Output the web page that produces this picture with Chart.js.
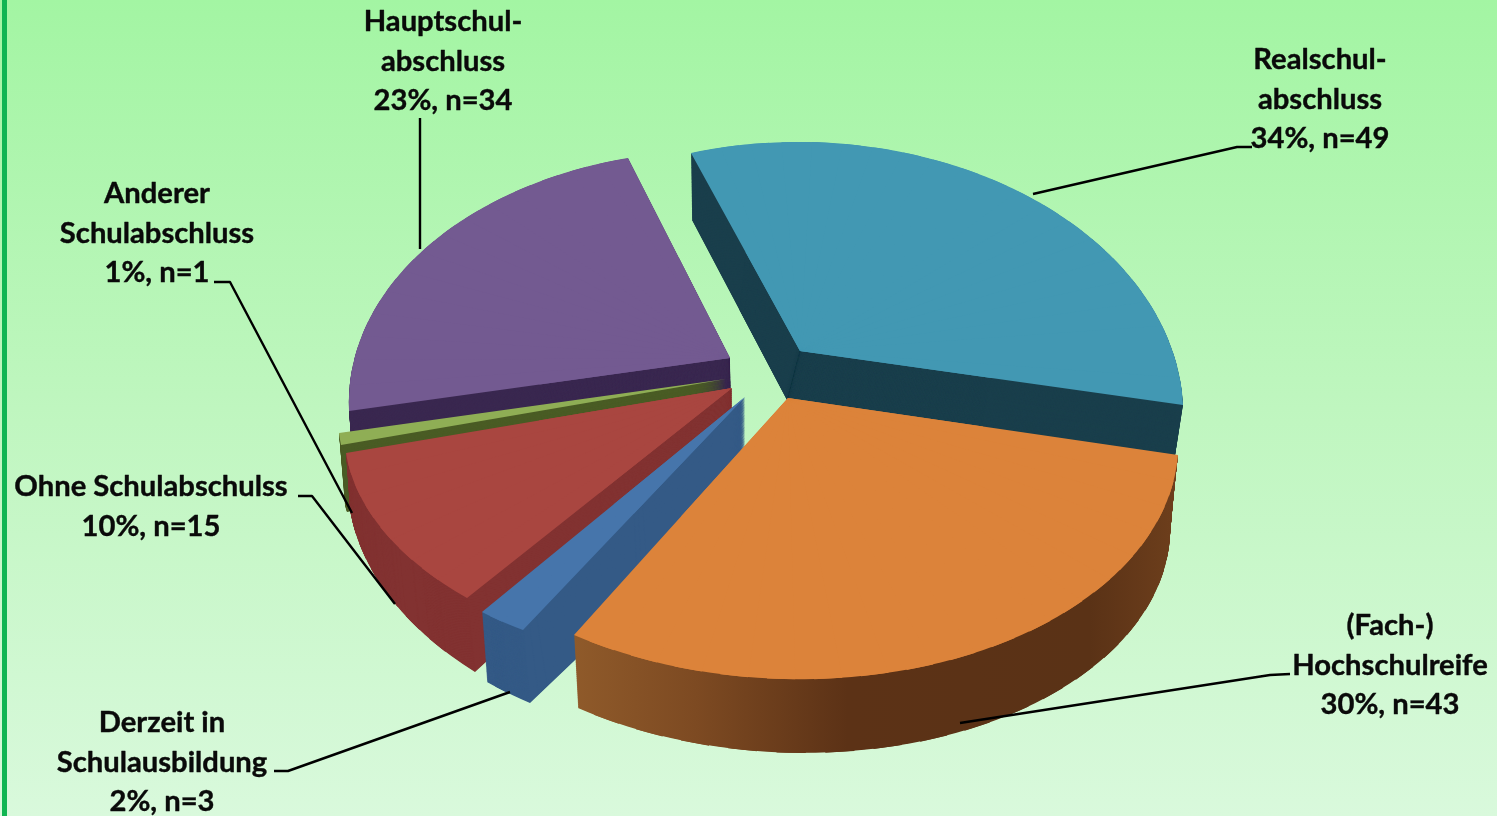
<!DOCTYPE html>
<html lang="de">
<head>
<meta charset="utf-8">
<title>Schulabschluss</title>
<style>html,body{margin:0;padding:0;background:#c8f6c8;overflow:hidden}canvas{display:block}</style>
<script src="https://cdn.jsdelivr.net/npm/chart.js@4"></script>
</head>
<body>
<canvas id="c" width="1497" height="816"></canvas>
<script>
// ---- data ----
const categories = ['Realschulabschluss', '(Fach-)Hochschulreife', 'Derzeit in Schulausbildung', 'Ohne Schulabschulss', 'Anderer Schulabschluss', 'Hauptschulabschluss'];
const counts = [49, 43, 3, 15, 1, 34];
const percents = [34, 30, 2, 10, 1, 23];
const labelHeads = [['Realschul-', 'abschluss'], ['(Fach-)', 'Hochschulreife'], ['Derzeit in', 'Schulausbildung'], ['Ohne Schulabschulss'], ['Anderer', 'Schulabschluss'], ['Hauptschul-', 'abschluss']];

// ---- style ----
const topColors = ['#4298b3', '#dc833a', '#4675ab', '#a94640', '#8fae55', '#735a91'];
const wallColors = ['#1a3f4c', null, '#345a86', '#823231', '#4a5c25', '#3a2850'];
const orangeWallStops = [[0, '#8f5a2a'], [0.2, '#7d4a22'], [0.45, '#5c3216'], [0.85, '#5a3216'], [1, '#6e3f1c']];
const drawOrder = [0, 5, 4, 3, 2, 1];

// ---- 3D view: how each wedge's rim maps on the page [apex, first rim end, last rim end] ----
const perspectiveTop = [0.22, 0.16, 0.22, 0.22, 0.22, 0.2];
const perspectiveBottom = [0.22, 0.22, 0.22, 0.22, 0.22, 0.2];
const viewTop = [
  [[800, 351], [691, 153], [1183, 405]],
  [[788, 398], [1178, 455], [574, 635]],
  [[745, 397], [523, 630], [482, 612]],
  [[732, 388], [467, 598], [346, 453]],
  [[726, 379], [341, 445], [339, 433]],
  [[730, 358], [349, 411], [628, 158]]
];
const viewBottom = [
  [[787, 400], [692, 220], [1175, 456]],
  [[788, 470], [1170, 520], [578, 708]],
  [[745, 498], [530, 703], [487, 682]],
  [[732, 437], [475, 672], [350, 510]],
  [[727, 430], [347, 512], [345, 505]],
  [[731, 410], [354, 475], [628, 210]]
];
const labelLayout = [
  {x: 1320, y: 60}, {x: 1390, y: 626}, {x: 162, y: 723}, {x: 151, y: 487}, {x: 157, y: 194}, {x: 443, y: 22}
];
const leaders = [
  [[1252, 147], [1237, 147], [1033, 194]],
  [[1290, 674], [1270, 675], [960, 723]],
  [[274, 771], [288, 771], [510, 692]],
  [[298, 496], [312, 496], [395, 604]],
  [[214, 282], [230, 282], [352, 513]],
  [[420, 118], [420, 249]]
];
const lineStep = 39.4;
const maxSubAngle = 6 * Math.PI / 180;

function frameMatrix(ap, p1, p2, a1, a2) {
  const c1 = Math.cos(a1), s1 = Math.sin(a1), c2 = Math.cos(a2), s2 = Math.sin(a2);
  const det = c1 * s2 - s1 * c2;
  const d1x = p1[0] - ap[0], d1y = p1[1] - ap[1], d2x = p2[0] - ap[0], d2y = p2[1] - ap[1];
  return {
    a: (d1x * s2 - d2x * s1) / det, b: (d2x * c1 - d1x * c2) / det,
    c: (d1y * s2 - d2y * s1) / det, d: (d2y * c1 - d1y * c2) / det,
    e: ap[0], f: ap[1]
  };
}
function mixFrame(A, B, t) {
  return A.map((p, i) => [p[0] + (B[i][0] - p[0]) * t, p[1] + (B[i][1] - p[1]) * t]);
}
// perspective rim: X(a) = (M u(a) + apex) / (1 - p sin a)
function rimFunction(pts, a1, a2, persp) {
  const w = a => 1 - persp * Math.sin(a);
  const ap = pts[0];
  const q1 = [pts[1][0] * w(a1), pts[1][1] * w(a1)];
  const q2 = [pts[2][0] * w(a2), pts[2][1] * w(a2)];
  const m = frameMatrix(ap, q1, q2, a1, a2);
  return a => {
    const c = Math.cos(a), s = Math.sin(a), k = w(a);
    return [(m.a * c + m.b * s + ap[0]) / k, (m.c * c + m.d * s + ap[1]) / k];
  };
}
function paintSpan(ctx, el, m, b0, b2, wallGradient) {
  const R = el.outerRadius;
  el.startAngle = b0;
  el.endAngle = b2;
  el.circumference = b2 - b0;
  ctx.save();
  ctx.transform(m.a / R, m.c / R, m.b / R, m.d / R, m.e, m.f);
  if (wallGradient) {
    const gx = m.a / R, gy = m.b / R, nn = gx * gx + gy * gy;
    const g = ctx.createLinearGradient(
      el.x + gx * (575 - m.e) / nn, el.y + gy * (575 - m.e) / nn,
      el.x + gx * (1180 - m.e) / nn, el.y + gy * (1180 - m.e) / nn);
    wallGradient.forEach(st => g.addColorStop(st[0], st[1]));
    el.options.backgroundColor = g;
  }
  ctx.translate(-el.x, -el.y);
  el.draw(ctx);
  ctx.restore();
}
function drawWedge(ctx, el, pts, persp, wallGradient) {
  const start = el._a0, end = el._a1;
  const rim = rimFunction(pts, start, end, persp);
  const ap = pts[0];
  const n = Math.max(1, Math.ceil((end - start) / maxSubAngle));
  const lap = n > 1 ? (end - start) / n * 0.6 : 0;
  // whole wedge at half size first: gives a clean corner at the apex
  if (n > 1) {
    const r0 = rim(start), r1 = rim(end);
    const half = p => [(ap[0] + p[0]) / 2, (ap[1] + p[1]) / 2];
    paintSpan(ctx, el, frameMatrix(ap, half(r0), half(r1), start, end), start, end, wallGradient);
  }
  for (let k = 0; k < n; k++) {
    const b0 = start + (end - start) * k / n;
    const b1 = start + (end - start) * (k + 1) / n;
    const b2 = k < n - 1 ? b1 + lap : b1;
    paintSpan(ctx, el, frameMatrix(ap, rim(b0), rim(b2), b0, b2), b0, b2, wallGradient);
  }
  el.startAngle = start;
  el.endAngle = end;
  el.circumference = end - start;
}
const pie3d = {
  id: 'pie3d',
  beforeDraw(chart) {
    const {ctx, width, height} = chart;
    const g = ctx.createLinearGradient(0, 0, 0, height);
    g.addColorStop(0, '#a3f5a3');
    g.addColorStop(0.5, '#bff6bf');
    g.addColorStop(1, '#d9f9dc');
    ctx.fillStyle = g;
    ctx.fillRect(0, 0, width, height);
    ctx.fillStyle = '#10b552';
    ctx.fillRect(2, 0, 5, height);
  },
  beforeDatasetDraw(chart) {
    const ctx = chart.ctx;
    const meta = chart.getDatasetMeta(0);
    const steps = 110;
    drawOrder.forEach(i => {
      const el = meta.data[i];
      el._a0 = el.startAngle;
      el._a1 = el.endAngle;
      const top = el.options.backgroundColor;
      for (let s = steps; s >= 1; s--) {
        const t = s / steps;
        const pts = mixFrame(viewTop[i], viewBottom[i], t);
        const p = perspectiveTop[i] + (perspectiveBottom[i] - perspectiveTop[i]) * t;
        if (wallColors[i]) {
          el.options.backgroundColor = wallColors[i];
          drawWedge(ctx, el, pts, p, null);
        } else {
          drawWedge(ctx, el, pts, p, orangeWallStops);
        }
      }
      el.options.backgroundColor = top;
      drawWedge(ctx, el, viewTop[i], perspectiveTop[i], null);
    });
    return false;
  },
  afterDraw(chart) {
    const ctx = chart.ctx;
    ctx.save();
    ctx.strokeStyle = '#000';
    ctx.lineWidth = 2.4;
    ctx.lineJoin = 'round';
    leaders.forEach(l => {
      ctx.beginPath();
      l.forEach((p, i) => i ? ctx.lineTo(p[0], p[1]) : ctx.moveTo(p[0], p[1]));
      ctx.stroke();
    });
    ctx.fillStyle = '#0a0a0a';
    ctx.strokeStyle = '#0a0a0a';
    ctx.lineWidth = 0.4;
    ctx.font = '700 29.2px Lato, "Open Sans", sans-serif';
    ctx.textAlign = 'center';
    ctx.textBaseline = 'middle';
    labelHeads.forEach((head, i) => {
      const lines = head.concat(percents[i] + '%, n=' + counts[i]);
      lines.forEach((t, k) => {
        ctx.fillText(t, labelLayout[i].x, labelLayout[i].y + k * lineStep);
        ctx.strokeText(t, labelLayout[i].x, labelLayout[i].y + k * lineStep);
      });
    });
    ctx.restore();
  }
};
new Chart(document.getElementById('c'), {
  type: 'pie',
  data: {
    labels: categories,
    datasets: [{data: counts, backgroundColor: topColors, borderWidth: 0}]
  },
  options: {
    responsive: false,
    animation: false,
    rotation: -18,
    layout: {padding: 0},
    plugins: {legend: {display: false}, tooltip: {enabled: false}}
  },
  plugins: [pie3d]
});
</script>
</body>
</html>
